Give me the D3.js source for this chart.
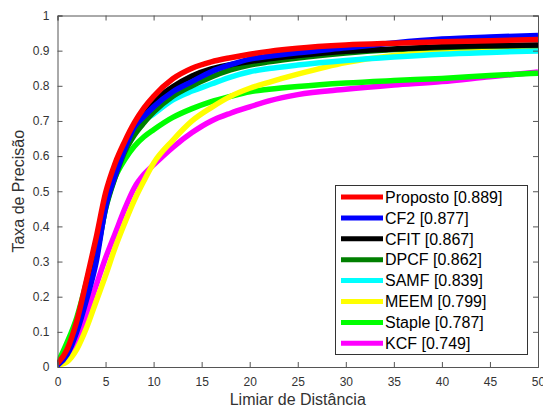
<!DOCTYPE html>
<html><head><meta charset="utf-8">
<script src="https://cdn.jsdelivr.net/npm/d3@7"></script>
<style>body{margin:0;background:#fff}svg{display:block}</style>
</head><body>
<svg id="c" width="543" height="410"></svg>
<script>
const thresholds = [0,1,2,3,4,5,6,7,8,9,10,12,14,16,18,20,22,25,30,35,40,45,50];
const names = ["Proposto [0.889]","CF2 [0.877]","CFIT [0.867]","DPCF [0.862]","SAMF [0.839]","MEEM [0.799]","Staple [0.787]","KCF [0.749]"];
const colors = ["#ff0000","#0000ff","#000000","#007f00","#00ffff","#ffff00","#00ff00","#ff00ff"];
const proposto = [0.01,0.05,0.13,0.245,0.365,0.495,0.58,0.642,0.695,0.737,0.77,0.82,0.85,0.868,0.88,0.89,0.898,0.907,0.916,0.921,0.925,0.928,0.932];
const cf2      = [0.005,0.035,0.10,0.19,0.295,0.455,0.545,0.62,0.683,0.713,0.74,0.783,0.812,0.84,0.86,0.876,0.884,0.894,0.908,0.922,0.933,0.939,0.943];
const cfit     = [0.01,0.04,0.11,0.21,0.325,0.47,0.56,0.635,0.69,0.727,0.755,0.797,0.828,0.848,0.86,0.869,0.877,0.886,0.898,0.905,0.911,0.914,0.916];
const dpcf     = [0.01,0.04,0.11,0.20,0.31,0.45,0.54,0.612,0.66,0.695,0.725,0.77,0.80,0.825,0.845,0.859,0.868,0.879,0.893,0.903,0.909,0.913,0.915];
const samf     = [0.01,0.04,0.11,0.20,0.31,0.45,0.545,0.615,0.665,0.70,0.72,0.76,0.785,0.805,0.825,0.84,0.849,0.859,0.872,0.882,0.89,0.895,0.899];
const meem     = [0.005,0.015,0.05,0.11,0.185,0.26,0.34,0.41,0.475,0.53,0.58,0.645,0.70,0.738,0.77,0.793,0.81,0.833,0.866,0.886,0.897,0.901,0.904];
const staple   = [0.01,0.07,0.14,0.24,0.35,0.46,0.54,0.59,0.628,0.655,0.675,0.71,0.735,0.755,0.77,0.783,0.79,0.798,0.808,0.815,0.821,0.829,0.836];
const kcf      = [0.005,0.03,0.075,0.15,0.23,0.31,0.38,0.45,0.51,0.548,0.575,0.625,0.667,0.70,0.722,0.74,0.757,0.775,0.79,0.802,0.812,0.826,0.839];
const seriesValues = [proposto,cf2,cfit,dpcf,samf,meem,staple,kcf];
const xTicks = [0,5,10,15,20,25,30,35,40,45,50];
const yTicks = [0,0.1,0.2,0.3,0.4,0.5,0.6,0.7,0.8,0.9,1];
const xLabel = "Limiar de Distância";
const yLabel = "Taxa de Precisão";

const svg = d3.select("#c");
const L = 57.5, R = 538, T = 15.5, B = 367;
const x = d3.scaleLinear().domain([0,50]).range([L,R]);
const y = d3.scaleLinear().domain([0,1]).range([B,T]);
const font = "'Liberation Sans', Arial, Helvetica, sans-serif";

const plot = svg.append("g");
plot.append("defs").append("clipPath").attr("id","clip")
  .append("rect").attr("x",L).attr("y",T).attr("width",R-L).attr("height",B-T);

const line = d3.line().x((d,i)=>x(thresholds[i])).y(d=>y(d)).curve(d3.curveMonotoneX);
const lg = plot.append("g").attr("clip-path","url(#clip)");
for (let k = seriesValues.length-1; k >= 0; k--) {
  lg.append("path").attr("d", line(seriesValues[k]))
    .attr("fill","none").attr("stroke",colors[k]).attr("stroke-width",5.5)
    .attr("stroke-linejoin","round").attr("stroke-linecap","butt");
}

// axes (box with inward ticks)
const axColor = "#555";
const tickLen = 5;
const gx = svg.append("g").attr("transform",`translate(0,${B})`)
  .call(d3.axisBottom(x).tickValues(xTicks).tickSize(-tickLen).tickPadding(10).tickFormat(d3.format("d")));
const gxt = svg.append("g").attr("transform",`translate(0,${T})`)
  .call(d3.axisTop(x).tickValues(xTicks).tickSize(-tickLen).tickFormat(""));
const gy = svg.append("g").attr("transform",`translate(${L},0)`)
  .call(d3.axisLeft(y).tickValues(yTicks).tickSize(-tickLen).tickPadding(8).tickFormat(d=>d===0?"0":d===1?"1":d3.format(".1f")(d)));
const gyr = svg.append("g").attr("transform",`translate(${R},0)`)
  .call(d3.axisRight(y).tickValues(yTicks).tickSize(-tickLen).tickFormat(""));
[gx,gxt,gy,gyr].forEach(g=>{
  g.select(".domain").attr("stroke",axColor).attr("stroke-width",1);
  g.selectAll(".tick line").attr("stroke",axColor);
  g.selectAll("text").attr("fill","#333").style("font-family",font).style("font-size","12px");
});

svg.append("text").attr("x",(L+R)/2).attr("y",405).attr("text-anchor","middle")
  .style("font-family",font).style("font-size","16px").attr("fill","#333").text(xLabel);
svg.append("text").attr("transform",`translate(24,${(T+B)/2}) rotate(-90)`).attr("text-anchor","middle")
  .style("font-family",font).style("font-size","16px").attr("fill","#333").text(yLabel);

// legend
const lgX = 335, lgY = 185, lgW = 192, lgH = 169;
const leg = svg.append("g");
leg.append("rect").attr("x",lgX+0.5).attr("y",lgY+0.5).attr("width",lgW).attr("height",lgH)
  .attr("fill","#fff").attr("stroke","#333").attr("stroke-width",1);
names.forEach((n,i)=>{
  const yy = 197 + i*20.9;
  leg.append("line").attr("x1",341).attr("x2",383).attr("y1",yy).attr("y2",yy)
    .attr("stroke",colors[i]).attr("stroke-width",5);
  leg.append("text").attr("x",385).attr("y",yy).attr("dy","0.36em")
    .style("font-family",font).style("font-size","16px").attr("fill","#000").text(n);
});
</script>
</body></html>
